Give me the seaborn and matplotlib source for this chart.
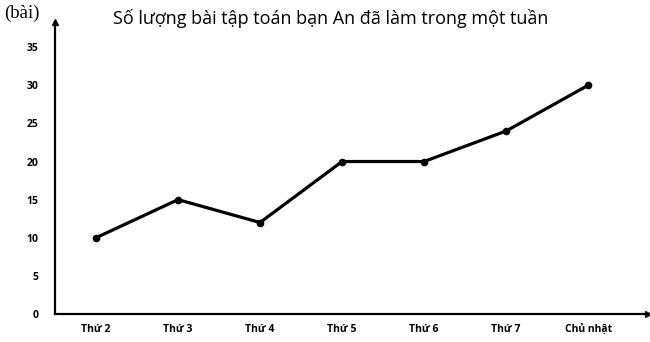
import matplotlib
matplotlib.use("Agg")
import matplotlib.pyplot as plt
import seaborn as sns
import pandas as pd

days = ["Thứ 2", "Thứ 3", "Thứ 4", "Thứ 5", "Thứ 6", "Thứ 7", "Chủ nhật"]
counts = [10, 15, 12, 20, 20, 24, 30]
y_ticks = [0, 5, 10, 15, 20, 25, 30, 35]
title = "Số lượng bài tập toán bạn An đã làm trong một tuần"
unit = "(bài)"

sns.set_theme(style="white")
plt.rcParams["font.family"] = ["Open Sans", "DejaVu Sans"]

df = pd.DataFrame({"day": days, "count": counts})

W, H = 650, 342
fig = plt.figure(figsize=(6.5, 3.42), dpi=100)
ax = fig.add_axes([55 / W, (H - 314) / H, (648 - 55) / W, (314 - 22) / H])

sns.lineplot(data=df, x="day", y="count", sort=False, color="black",
             linewidth=2.3, marker="o", markersize=5.5, markeredgewidth=0, ax=ax)

ax.set_xlim(-0.5, 6.73)
ax.set_ylim(0, 38.3)
ax.set_yticks(y_ticks)
ax.set_xticks(range(len(days)))
ax.set_xticklabels(days)
ax.set_xlabel("")
ax.set_ylabel("")
for s in ["top", "right"]:
    ax.spines[s].set_visible(False)
for s in ["left", "bottom"]:
    ax.spines[s].set_color("black")
    ax.spines[s].set_linewidth(1.6)
ax.tick_params(axis="both", length=0, labelsize=7.5, colors="black")
ax.tick_params(axis="y", pad=12)
ax.tick_params(axis="x", pad=7)
for lab in ax.get_xticklabels() + ax.get_yticklabels():
    lab.set_fontweight("bold")

# axis arrows
ax.plot(1, 0, ">k", markersize=5, transform=ax.transAxes, clip_on=False)
ax.plot(0, 1, "^k", markersize=5, transform=ax.transAxes, clip_on=False)

fig.text(331 / W, 1 - 18 / H, title, ha="center", va="center", fontsize=13,
         color="black")
fig.text(4 / W, 1 - 13 / H, unit, ha="left", va="center", fontsize=13.5,
         family=["Liberation Serif", "DejaVu Serif"], color="black")

fig.savefig("out.png", dpi=100)
